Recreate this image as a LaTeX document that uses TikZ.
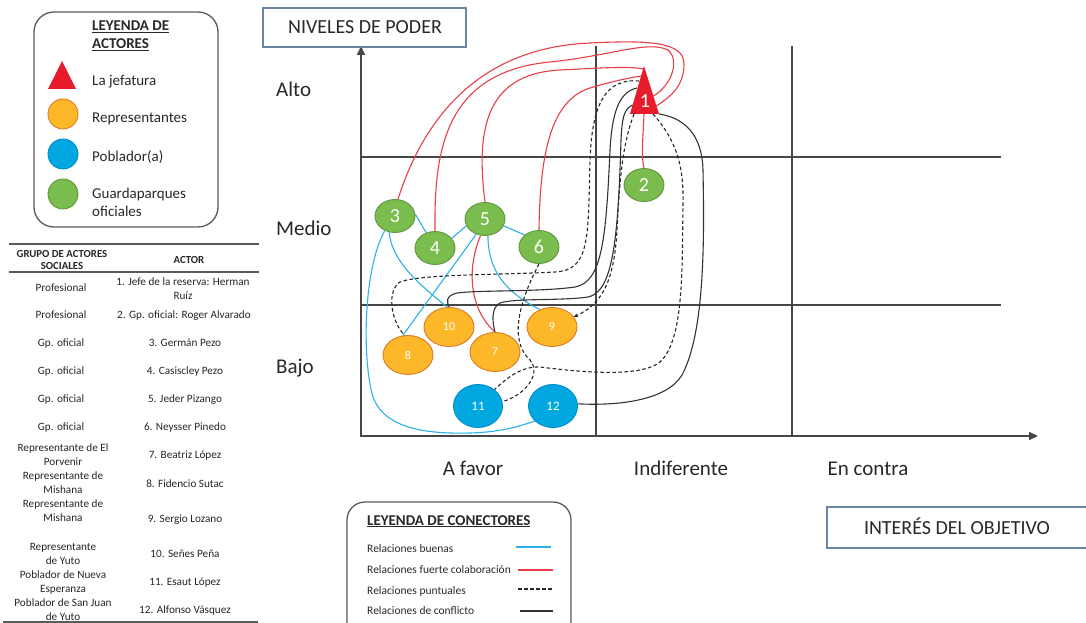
\documentclass[tikz,border=0pt]{standalone}
\usepackage{fontspec}
\setmainfont{Carlito}
\usetikzlibrary{shapes.geometric,arrows.meta,backgrounds}
\definecolor{gfill}{RGB}{122,188,78}
\definecolor{gbord}{RGB}{96,150,62}
\definecolor{ofill}{RGB}{252,184,40}
\definecolor{obord}{RGB}{222,122,40}
\definecolor{bfill}{RGB}{0,167,224}
\definecolor{bbord}{RGB}{0,140,200}
\definecolor{trired}{RGB}{230,28,45}
\definecolor{cblue}{RGB}{40,178,230}
\definecolor{cred}{RGB}{232,62,72}
\definecolor{gridc}{RGB}{70,70,70}
\definecolor{txt}{RGB}{40,40,40}
\definecolor{boxc}{RGB}{105,135,165}
\definecolor{legc}{RGB}{90,90,90}
\begin{document}
\begin{tikzpicture}[x=1pt,y=-1pt,
  greennode/.style={ellipse,draw=gbord,fill=gfill,line width=0.9pt,minimum width=40pt,minimum height=33pt,inner sep=0pt,text=white,font=\fontsize{20}{20}\selectfont},
  orangenode/.style={ellipse,draw=obord,fill=ofill,line width=0.9pt,minimum width=50pt,minimum height=39pt,inner sep=0pt,text=white,font=\fontsize{12}{12}\selectfont},
  bluenode/.style={ellipse,draw=bbord,fill=bfill,line width=0.9pt,minimum width=49pt,minimum height=43pt,inner sep=0pt,text=white,font=\fontsize{13}{13}\selectfont},
  gridl/.style={draw=gridc,line width=2pt},
  conngood/.style={draw=cblue,line width=1.1pt},
  connstrong/.style={draw=cred,line width=1.1pt},
  connpunct/.style={draw=black!85,line width=1.1pt,dash pattern=on 3.5pt off 2.5pt},
  connconfl/.style={draw=black!80,line width=1.1pt},
  axlbl/.style={inner sep=0pt,text=txt,font=\fontsize{21}{21}\selectfont,anchor=base},
  leglbl/.style={inner sep=0pt,text=txt,font=\fontsize{15}{18}\selectfont,anchor=base west,align=left},
  legttl/.style={inner sep=0pt,text=txt,font=\fontsize{15}{18}\selectfont\bfseries,anchor=base west,align=left},
  tbl/.style={inner sep=0pt,text=black!85,font=\fontsize{11.2}{13.5}\selectfont,align=center,anchor=base},
  tblhead/.style={inner sep=0pt,text=black!85,font=\fontsize{10.8}{12.5}\selectfont\bfseries,align=center,anchor=base},
  cleg/.style={inner sep=0pt,text=txt,font=\fontsize{11.5}{14}\selectfont,anchor=base west},
  framebox/.style={draw=boxc,line width=1.2pt}
]
\useasboundingbox (0,0) rectangle (1086,623);

% ---------- actor legend ----------
\draw[legc,line width=1.3pt,rounded corners=20pt] (34,12) rectangle (218,227);
\node[legttl] (lt) at (92,49) {\underline{LEYENDA DE}\\\underline{ACTORES}};
\fill[trired] (48,89) -- (62,61) -- (76,89) -- cycle;
\node[leglbl] (l1) at (92,86) {La jefatura};
\node[orangenode,minimum width=30pt,minimum height=30pt] (lo) at (63,114) {};
\node[leglbl] (l2) at (92,123) {Representantes};
\node[bluenode,minimum width=30pt,minimum height=30pt] (lb) at (63,154) {};
\node[leglbl] (l3) at (92,161) {Poblador(a)};
\node[greennode,minimum width=30pt,minimum height=30pt] (lg) at (63,194) {};
\node[leglbl] (l4) at (92,216) {Guardaparques\\oficiales};

% ---------- table ----------
\draw[legc,line width=2pt] (9,244) -- (259,244);
\draw[legc,line width=2pt] (9,272) -- (259,272);
\draw[legc,line width=1.2pt] (3,622) -- (258,622);
\node[tblhead] (h1) at (62,269.5) {GRUPO DE ACTORES\\SOCIALES};
\node[tblhead] (h2) at (189,263) {ACTOR};
\node[tbl] (a1) at (61,291) {Profesional};
\node[tbl] (b1) at (183,299) {1. Jefe de la reserva: Herman\\Ruíz};
\node[tbl] (a2) at (61,318) {Profesional};
\node[tbl] (b2) at (184,318) {2. Gp. oficial: Roger Alvarado};
\node[tbl] (a3) at (61,346) {Gp. oficial};
\node[tbl] (b3) at (185,346) {3. Germán Pezo};
\node[tbl] (a4) at (61,374) {Gp. oficial};
\node[tbl] (b4) at (185,374) {4. Casiscley Pezo};
\node[tbl] (a5) at (61,402) {Gp. oficial};
\node[tbl] (b5) at (185,402) {5. Jeder Pizango};
\node[tbl] (a6) at (61,430) {Gp. oficial};
\node[tbl] (b6) at (185,430) {6. Neysser Pinedo};
\node[tbl] (a7) at (63,465) {Representante de El\\Porvenir};
\node[tbl] (b7) at (185,458) {7. Beatriz López};
\node[tbl] (a8) at (63,493) {Representante de\\Mishana};
\node[tbl] (b8) at (185,487) {8. Fidencio Sutac};
\node[tbl] (a9) at (63,521) {Representante de\\Mishana};
\node[tbl] (b9) at (185,522) {9. Sergio Lozano};
\node[tbl] (a10) at (63,564) {Representante\\de Yuto};
\node[tbl] (b10) at (185,557) {10. Señes Peña};
\node[tbl] (a11) at (63,592) {Poblador de Nueva\\Esperanza};
\node[tbl] (b11) at (185,585) {11. Esaut López};
\node[tbl] (a12) at (63,620) {Poblador de San Juan\\de Yuto};
\node[tbl] (b12) at (185,613) {12. Alfonso Vásquez};

% ---------- title boxes ----------
\draw[framebox] (263,8) rectangle (466,47);
\node[inner sep=0pt,text=txt,font=\fontsize{20}{20}\selectfont,anchor=base] (tp) at (365,34) {NIVELES DE PODER};
\draw[framebox] (827,507) rectangle (1092,548);
\node[inner sep=0pt,text=txt,font=\fontsize{20}{20}\selectfont,anchor=base] (ti) at (957,534) {INTERÉS DEL OBJETIVO};

% ---------- axis labels ----------
\node[axlbl,anchor=base west] (yl1) at (276,97) {Alto};
\node[axlbl,anchor=base west] (yl2) at (276,235) {Medio};
\node[axlbl,anchor=base west] (yl3) at (276,373) {Bajo};
\node[axlbl] (xl1) at (473,475) {A favor};
\node[axlbl] (xl2) at (681,475) {Indiferente};
\node[axlbl] (xl3) at (868,475) {En contra};

% ---------- actor nodes ----------
\fill[trired] (644,66) -- (659,114) -- (630,114) -- cycle;
\node[inner sep=0pt,text=white,font=\fontsize{20}{20}\selectfont] (n1) at (645,101) {1};
\coordinate (t1r3) at (656.5,106);
\coordinate (t1r4) at (653.5,96);
\coordinate (t1r5) at (643,69);
\coordinate (t1r6) at (641,76);
\coordinate (t1d8) at (639,81);
\coordinate (t1k10) at (637,88);
\coordinate (t1k7) at (633,105);
\coordinate (t1d9) at (634,114);
\coordinate (t1r2) at (644,114);
\coordinate (t1d11) at (653,114);
\coordinate (t1k12) at (659,114);

\node[greennode] (n2) at (644,185) {2};
\node[greennode] (n3) at (395,216) {3};
\node[greennode] (n4) at (435,248) {4};
\node[greennode] (n5) at (485,219) {5};
\node[greennode] (n6) at (539,247) {6};
\node[orangenode] (n7) at (495,352) {7};
\node[orangenode] (n8) at (408,355) {8};
\node[orangenode] (n9) at (552,327) {9};
\node[orangenode] (n10) at (449,327) {10};
\node[bluenode] (n11) at (478,406) {11};
\node[bluenode] (n12) at (553,406) {12};

% ---------- grid and connectors (behind nodes) ----------
\begin{scope}[on background layer]
\draw[gridl] (361,157) -- (1001,157);
\draw[gridl] (361,305) -- (1001,305);
\draw[gridl] (596,46) -- (596,436);
\draw[gridl] (792,46) -- (792,436);
\draw[gridl,-{Triangle[length=9pt,width=8pt]}] (361,437) -- (361,46);
\draw[gridl,-{Triangle[length=9pt,width=8pt]}] (360,436) -- (1038,436);

% good relations
\draw[conngood] (n3.5) -- (n4.120);
\draw[conngood] (n4.30) -- (n5.200);
\draw[conngood] (n5.-20) -- (n6.140);
\draw[conngood] (n5.240) -- (n8.105);
\draw[conngood] (n3.250) .. controls (392,262) and (420,285) .. (n10.95);
\draw[conngood] (n5.280) .. controls (488,270) and (505,292) .. (n9.125);
\draw[conngood] (n3.235) .. controls (363,270) and (362,360) .. (373,397) .. controls (385,430) and (430,434) .. (470,433) .. controls (505,432) and (522,425) .. (n12.220);

% strong collaboration
\draw[connstrong] (t1r3) .. controls (668,98) and (684,88) .. (684,64) .. controls (684,42) and (650,40) .. (590,43) .. controls (470,48) and (420,130) .. (n3.80);
\draw[connstrong] (t1r4) .. controls (672,85) and (680,60) .. (668,50) .. controls (648,40) and (610,56) .. (550,62) .. controls (445,72) and (434,150) .. (n4.north);
\draw[connstrong] (t1r5) .. controls (630,66) and (600,68) .. (560,70) .. controls (485,74) and (476,130) .. (n5.north);
\draw[connstrong] (t1r6) .. controls (628,78) and (610,82) .. (590,88) .. controls (552,100) and (540,150) .. (n6.north);
\draw[connstrong] (t1r2) .. controls (643,140) and (641,155) .. (n2.north);
\draw[connstrong] (n5.255) .. controls (466,270) and (470,310) .. (n7.north);

% punctual relations
\draw[connpunct] (t1d8) .. controls (605,78) and (592,105) .. (590,160) .. controls (588,240) and (590,270) .. (555,272) .. controls (500,275) and (420,274) .. (400,282) .. controls (387,290) and (390,320) .. (n8.100);
\draw[connpunct,-{Stealth[length=4pt,width=3.5pt]}] (t1d9) .. controls (624,140) and (620,170) .. (617,230) .. controls (614,285) and (600,305) .. (n9.25);
\draw[connpunct] (t1d11) .. controls (676,140) and (684,165) .. (683,205) .. controls (682,270) and (684,340) .. (660,362) .. controls (640,378) and (580,372) .. (540,367) .. controls (520,366) and (505,380) .. (n11.45);
\draw[connpunct] (n6.south) .. controls (520,300) and (508,340) .. (530,360) .. controls (542,374) and (525,395) .. (n11.10);

% conflict relations
\draw[connconfl] (t1k10) .. controls (618,92) and (612,115) .. (610,150) .. controls (606,240) and (602,282) .. (575,287) .. controls (540,292) and (480,290) .. (457,293) .. controls (445,296) and (447,302) .. (n10.north);
\draw[connconfl] (t1k7) .. controls (624,108) and (622,118) .. (621,140) .. controls (618,240) and (613,292) .. (588,297) .. controls (560,301) and (515,298) .. (500,303) .. controls (490,308) and (493,325) .. (n7.north);
\draw[connconfl] (t1k12) .. controls (685,118) and (702,135) .. (703,170) .. controls (704,230) and (706,330) .. (682,375) .. controls (667,400) and (620,406) .. (n12.5);
\end{scope}

% ---------- connector legend ----------
\draw[legc,line width=1.3pt,rounded corners=18pt] (347,502) rectangle (571,645);
\node[legttl] (ct) at (367,525) {\underline{LEYENDA DE CONECTORES}};
\node[cleg] (c1) at (367,552) {Relaciones buenas};
\node[cleg] (c2) at (367,573) {Relaciones fuerte colaboración};
\node[cleg] (c3) at (367,594) {Relaciones puntuales};
\node[cleg] (c4) at (367,614) {Relaciones de conflicto};
\coordinate (c1a) at (516,547); \coordinate (c1b) at (551,547);
\coordinate (c2a) at (518,570); \coordinate (c2b) at (553,570);
\coordinate (c3a) at (518,589); \coordinate (c3b) at (553,589);
\coordinate (c4a) at (520,611); \coordinate (c4b) at (553,611);
\draw[conngood,line width=1.6pt] (c1a) -- (c1b);
\draw[connstrong,line width=1.6pt] (c2a) -- (c2b);
\draw[connpunct,line width=1.6pt,dash pattern=on 4pt off 2pt] (c3a) -- (c3b);
\draw[connconfl,line width=1.8pt] (c4a) -- (c4b);
\end{tikzpicture}
\end{document}
